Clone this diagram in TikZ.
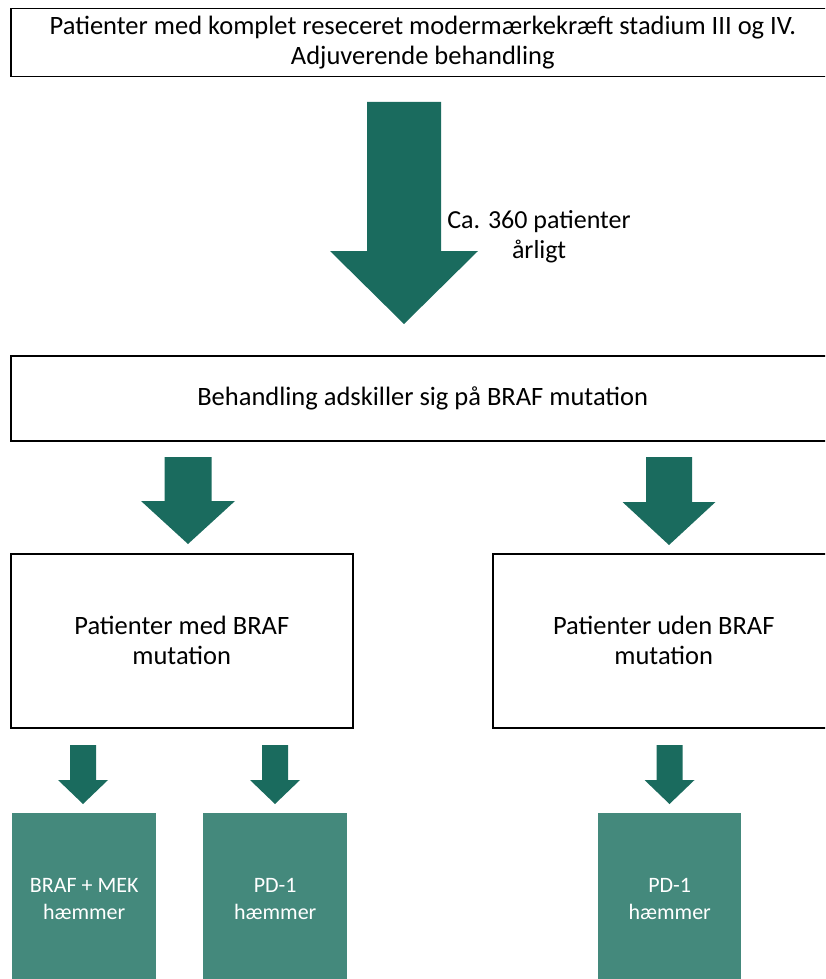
\documentclass[tikz,border=0pt]{standalone}
\usepackage{fontspec}
\setmainfont{Carlito}
\usetikzlibrary{calc}

\definecolor{arrowgreen}{RGB}{26,107,94}
\definecolor{drugteal}{RGB}{68,137,124}

% fat down arrow: centre x, top y, tip y, half shaft, half head, head base y
\newcommand{\fatarrow}[6]{%
  \fill[arrowgreen] (#1-#4,#2) -- (#1+#4,#2) -- (#1+#4,#6) -- (#1+#5,#6) -- (#1,#3) -- (#1-#5,#6) -- (#1-#4,#6) -- cycle;}

\begin{document}
\begin{tikzpicture}[x=1pt,y=-1pt,
    box/.style={draw=black,line width=1.5pt,fill=white,anchor=north west,align=center,font=\fontsize{26.5}{30}\selectfont},
    drug/.style={fill=drugteal,text=white,anchor=north west,align=center,minimum width=144pt,minimum height=172pt,font=\fontsize{22}{27}\selectfont}]
  \useasboundingbox (0,0) rectangle (825,979);
  \clip (0,0) rectangle (825,979);

  \node[box,minimum width=824pt,minimum height=68pt] (cohort) at (10,8) {Patienter med komplet reseceret modermærkekræft stadium III og IV.\\Adjuverende behandling};
  \node[box,minimum width=824pt,minimum height=85pt] (split) at (10,355) {Behandling adskiller sig på BRAF mutation};
  \node[box,minimum width=342pt,minimum height=174pt] (braf) at (10,553) {Patienter med BRAF\\mutation};
  \node[box,minimum width=342pt,minimum height=174pt] (nobraf) at (492,553) {Patienter uden BRAF\\mutation};

  \node[drug] (brafmek) at (12,813) {BRAF + MEK\\hæmmer};
  \node[drug] (pdone) at (203,813) {PD-1\\hæmmer};
  \node[drug,minimum width=143pt] (pdtwo) at (598,813) {PD-1\\hæmmer};

  \node[font=\fontsize{26}{30}\selectfont,align=center] (count) at (539,237) {Ca. 360 patienter\\årligt};

  \fatarrow{404}{102}{324}{37}{74}{251}
  \fatarrow{188}{457}{544}{23.5}{47}{501}
  \fatarrow{669}{457}{545}{23}{46.5}{502}
  \foreach \x in {83,275,669.5}{
    \fatarrow{\x}{745}{804}{13}{25}{780}
  }
\end{tikzpicture}
\end{document}
